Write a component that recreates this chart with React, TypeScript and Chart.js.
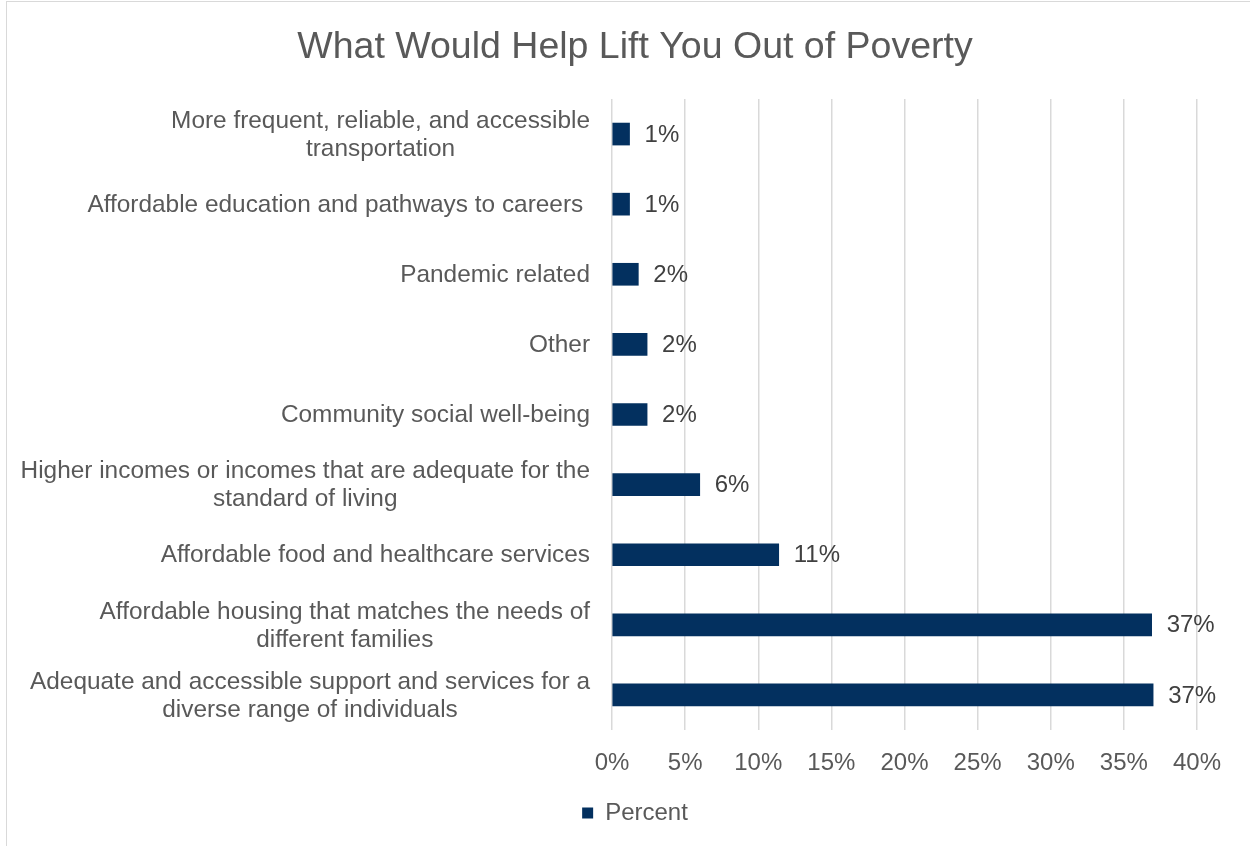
import React, { useEffect, useRef } from "react";
import { Chart, registerables } from "chart.js";

Chart.register(...registerables);

const chartTitle = "What Would Help Lift You Out of Poverty";
const seriesName = "Percent";
const categories: string[][] = [
  ["More frequent, reliable, and accessible", "transportation"],
  ["Affordable education and pathways to careers "],
  ["Pandemic related"],
  ["Other"],
  ["Community social well-being"],
  ["Higher incomes or incomes that are adequate for the", "standard of living"],
  ["Affordable food and healthcare services"],
  ["Affordable housing that matches the needs of", "different families"],
  ["Adequate and accessible support and services for a", "diverse range of individuals"],
];
const values: number[] = [1.2, 1.2, 1.8, 2.4, 2.4, 6.0, 11.4, 36.9, 37.0];
const valueLabels: string[] = ["1%", "1%", "2%", "2%", "2%", "6%", "11%", "37%", "37%"];
const xTicks: number[] = [0, 5, 10, 15, 20, 25, 30, 35, 40];

const FONT = "'Liberation Sans', Arial, Helvetica, sans-serif";
const BAR_COLOR = "#03305f";
const TEXT_COLOR = "#595959";
const GRID_COLOR = "#d9d9d9";

export default function App() {
  const ref = useRef<HTMLCanvasElement | null>(null);
  useEffect(() => {
    if (!ref.current) return;
    Chart.defaults.font.family = FONT;
    const labelPlugin = {
      id: "customLabels",
      afterDatasetsDraw(chart: any) {
        const ctx = chart.ctx;
        const meta = chart.getDatasetMeta(0);
        ctx.save();
        ctx.font = `24px ${FONT}`;
        ctx.fillStyle = "#404040";
        ctx.textAlign = "left";
        ctx.textBaseline = "middle";
        meta.data.forEach((el: any, i: number) => {
          ctx.fillText(valueLabels[i], el.x + 15, el.y + 1);
        });
        // category labels
        ctx.font = `24.4px ${FONT}`;
        const yScale = chart.scales.y;
        ctx.fillStyle = TEXT_COLOR;
        const right = chart.chartArea.left - 22;
        categories.forEach((lines, i) => {
          const yc = yScale.getPixelForValue(i);
          const maxW = Math.max(...lines.map((l) => ctx.measureText(l).width));
          const cx = right - maxW / 2;
          lines.forEach((l, j) => {
            ctx.textAlign = lines.length > 1 ? "center" : "right";
            const x = lines.length > 1 ? cx : right;
            ctx.fillText(l, x, yc + (j - (lines.length - 1) / 2) * 28 + 1);
          });
        });
        ctx.restore();
      },
    };
    const chart = new Chart(ref.current, {
      type: "bar",
      data: {
        labels: categories.map((c) => c.join(" ")),
        datasets: [
          {
            label: seriesName,
            data: values,
            backgroundColor: BAR_COLOR,
            borderWidth: 0,
            barThickness: 22,
          },
        ],
      },
      options: {
        indexAxis: "y",
        animation: false,
        responsive: false,
        maintainAspectRatio: false,
        layout: { padding: { left: 73, right: 53, top: 0, bottom: 11 } },
        plugins: {
          title: {
            display: true,
            text: chartTitle,
            color: TEXT_COLOR,
            font: { size: 37.5, weight: "normal", family: FONT },
            padding: { top: 25, bottom: 29 },
          },
          legend: {
            display: true,
            position: "bottom",
            labels: {
              boxWidth: 11,
              boxHeight: 11,
              color: TEXT_COLOR,
              font: { size: 24, family: FONT },
              padding: 21,
            },
          },
          tooltip: { enabled: false },
        },
        scales: {
          x: {
            min: 0,
            max: 40,
            afterBuildTicks(scale: any) {
              scale.ticks = xTicks.map((v) => ({ value: v }));
            },
            ticks: {
              color: TEXT_COLOR,
              font: { size: 24, family: FONT },
              padding: 19,
              callback: (v: any) => `${v}%`,
            },
            grid: { color: GRID_COLOR, lineWidth: 1.5, drawTicks: false },
            border: { display: false },
            afterFit(scale: any) {
              scale.height = 50;
            },
          },
          y: {
            ticks: { display: false },
            grid: { display: false },
            border: { display: false },
            afterFit(scale: any) {
              scale.width = 539;
            },
          },
        },
      },
      plugins: [labelPlugin],
    });
    return () => chart.destroy();
  }, []);
  return (
    <div>
      <div
        style={{
          position: "fixed",
          left: 6,
          top: 1,
          width: 1400,
          height: 1000,
          border: "1px solid #d9d9d9",
          boxSizing: "border-box",
        }}
      />
      <canvas
        ref={ref}
        width={1250}
        height={846}
        style={{ position: "fixed", left: 0, top: 0, width: 1250, height: 846 }}
      />
    </div>
  );
}
